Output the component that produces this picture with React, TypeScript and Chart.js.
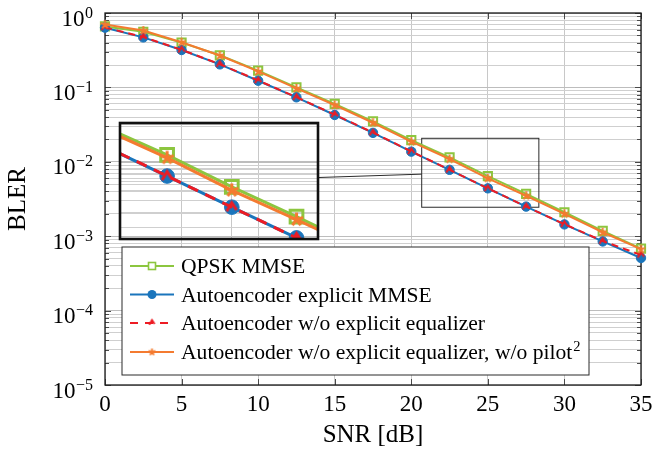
import React, { useEffect, useRef } from "react";
import { Chart, registerables } from "chart.js";

Chart.register(...registerables);

// ---------------- data ----------------
const snrDb = [0, 2.5, 5, 7.5, 10, 12.5, 15, 17.5, 20, 22.5, 25, 27.5, 30, 32.5, 35];
const qpskMmse = [0.66, 0.56, 0.4, 0.27, 0.168, 0.1, 0.06, 0.035, 0.0196, 0.0115, 0.0064, 0.0037, 0.0021, 0.00118, 0.00068];
const aeExplicitMmse = [0.635, 0.47, 0.318, 0.204, 0.123, 0.0736, 0.0426, 0.0245, 0.0137, 0.0078, 0.0044, 0.0025, 0.00144, 0.00085, 0.00051];
const aeNoEqualizer = [0.64, 0.475, 0.32, 0.205, 0.124, 0.074, 0.043, 0.0247, 0.0138, 0.0078, 0.0044, 0.0025, 0.00145, 0.00086, 0.00056];
const aeNoEqNoPilot = [0.7, 0.58, 0.405, 0.268, 0.164, 0.097, 0.058, 0.0335, 0.0187, 0.0109, 0.006, 0.0035, 0.002, 0.00113, 0.00067];

const seriesNames = [
  "QPSK MMSE",
  "Autoencoder explicit MMSE",
  "Autoencoder w/o explicit equalizer",
  "Autoencoder w/o explicit equalizer, w/o pilot",
];
const lastNameSup = "2";

const xTickValues = [0, 5, 10, 15, 20, 25, 30, 35];
const yExponents = [0, -1, -2, -3, -4, -5];
const zoomSnr = [20.68, 28.33];
const zoomBler = [0.00245, 0.0207];
const insetXTicks = [25];

const xTitle = "SNR [dB]";
const yTitle = "BLER";

// ---------------- style ----------------
const GREEN = "#8cc63f";
const BLUE = "#1a75bc";
const RED = "#ed1c24";
const ORANGE = "#f47b30";
const FONT = '"Liberation Serif", "Times New Roman", serif';
const W = 654;
const H = 455;
const INSET = { left: 120, top: 123, right: 318, bottom: 239 };
const LEGEND = { x: 122, y: 247, w: 467, h: 128 };

function isDecade(v: number) {
  const l = Math.log10(v);
  return Math.abs(l - Math.round(l)) < 1e-6;
}

function logGrid(minExp: number, maxExp: number) {
  const out: { value: number }[] = [];
  for (let e = minExp; e < maxExp; e++) {
    for (let m = 1; m < 10; m++) out.push({ value: m * Math.pow(10, e) });
  }
  out.push({ value: Math.pow(10, maxExp) });
  return out;
}

function chevronImg(size: number, color: string, lw: number) {
  const c = document.createElement("canvas");
  c.width = size;
  c.height = size;
  const g = c.getContext("2d")!;
  g.strokeStyle = color;
  g.lineWidth = lw;
  g.lineJoin = "miter";
  g.beginPath();
  g.moveTo(size * 0.2, size * 0.74);
  g.lineTo(size * 0.5, size * 0.24);
  g.lineTo(size * 0.78, size * 0.66);
  g.stroke();
  return c;
}

function starImg(size: number, color: string, lw: number) {
  const c = document.createElement("canvas");
  c.width = size;
  c.height = size;
  const g = c.getContext("2d")!;
  const cx = size / 2;
  const r = size / 2 - lw / 2;
  g.strokeStyle = color;
  g.lineWidth = lw;
  g.lineCap = "butt";
  g.beginPath();
  for (let k = 0; k < 5; k++) {
    const a = (-90 + 72 * k) * (Math.PI / 180);
    g.moveTo(cx, cx);
    g.lineTo(cx + r * Math.cos(a), cx + r * Math.sin(a));
  }
  g.stroke();
  g.fillStyle = color;
  g.beginPath();
  g.arc(cx, cx, lw * 0.9, 0, Math.PI * 2);
  g.fill();
  return c;
}

function pts(vals: number[]) {
  return snrDb.map((x, i) => ({ x, y: vals[i] }));
}

function buildDatasets(inset: boolean) {
  const k = inset ? 1.55 : 1;
  const lw = inset ? 3 : 2;
  const clip = inset ? undefined : false;
  return [
    {
      label: seriesNames[0],
      data: pts(qpskMmse),
      borderColor: GREEN,
      borderWidth: lw,
      pointStyle: "rect",
      pointRadius: 5.8 * k,
      pointBorderWidth: lw,
      pointBorderColor: GREEN,
      pointBackgroundColor: "rgba(0,0,0,0)",
      order: 4,
      clip,
    },
    {
      label: seriesNames[1],
      data: pts(aeExplicitMmse),
      borderColor: BLUE,
      borderWidth: lw,
      pointStyle: "circle",
      pointRadius: 4.7 * k,
      pointBorderWidth: 1,
      pointBorderColor: BLUE,
      pointBackgroundColor: BLUE,
      order: 3,
      clip,
    },
    {
      label: seriesNames[2],
      data: pts(aeNoEqualizer),
      borderColor: RED,
      borderWidth: lw,
      borderDash: inset ? [11, 8] : [7, 5],
      pointStyle: chevronImg(Math.round(11 * k), RED, lw),
      pointRadius: 5 * k,
      order: 2,
      clip,
    },
    {
      label: seriesNames[3],
      data: pts(aeNoEqNoPilot),
      borderColor: ORANGE,
      borderWidth: lw,
      pointStyle: starImg(Math.round(11 * k), ORANGE, inset ? 3 : 2),
      pointRadius: 5 * k,
      order: 1,
      clip,
    },
  ];
}

const mainDecor = {
  id: "mainDecor",
  beforeDatasetsDraw(chart: any) {
    const { ctx, chartArea: a, scales } = chart;
    const xs = scales.x;
    const ys = scales.y;
    ctx.save();
    // inner tick marks
    ctx.strokeStyle = "#4a4a4a";
    ctx.lineWidth = 1;
    ctx.beginPath();
    for (const t of ys.ticks) {
      const y = Math.round(ys.getPixelForValue(t.value)) + 0.5;
      const len = isDecade(t.value) ? 6 : 4;
      ctx.moveTo(a.left, y);
      ctx.lineTo(a.left + len, y);
      ctx.moveTo(a.right, y);
      ctx.lineTo(a.right - len, y);
    }
    for (const v of xTickValues) {
      const x = Math.round(xs.getPixelForValue(v)) + 0.5;
      ctx.moveTo(x, a.top);
      ctx.lineTo(x, a.top + 6);
      ctx.moveTo(x, a.bottom);
      ctx.lineTo(x, a.bottom - 6);
    }
    ctx.stroke();
    // frame
    ctx.strokeStyle = "#1a1a1a";
    ctx.lineWidth = 1.3;
    ctx.strokeRect(a.left, a.top, a.right - a.left, a.bottom - a.top);
    // zoom box + connector
    const bx0 = xs.getPixelForValue(zoomSnr[0]);
    const bx1 = xs.getPixelForValue(zoomSnr[1]);
    const by0 = ys.getPixelForValue(zoomBler[1]);
    const by1 = ys.getPixelForValue(zoomBler[0]);
    ctx.strokeStyle = "#2a2a2a";
    ctx.lineWidth = 1;
    ctx.strokeRect(bx0, by0, bx1 - bx0, by1 - by0);
    ctx.beginPath();
    ctx.moveTo(INSET.right, INSET.top + 0.47 * (INSET.bottom - INSET.top));
    ctx.lineTo(bx0, by0 + 0.52 * (by1 - by0));
    ctx.stroke();
    ctx.restore();
  },
  afterDatasetsDraw(chart: any) {
    const { ctx } = chart;
    ctx.save();
    // legend
    ctx.fillStyle = "#ffffff";
    ctx.fillRect(LEGEND.x, LEGEND.y, LEGEND.w, LEGEND.h);
    ctx.strokeStyle = "#2a2a2a";
    ctx.lineWidth = 1;
    ctx.strokeRect(LEGEND.x, LEGEND.y, LEGEND.w, LEGEND.h);
    const rows = [266, 294.5, 323, 352];
    const sx0 = LEGEND.x + 8;
    const sx1 = sx0 + 44;
    const mx = (sx0 + sx1) / 2;
    const tx = LEGEND.x + 59;
    const colors = [GREEN, BLUE, RED, ORANGE];
    rows.forEach((ry, i) => {
      ctx.strokeStyle = colors[i];
      ctx.lineWidth = 2;
      ctx.setLineDash(i === 2 ? [8, 7] : []);
      ctx.beginPath();
      ctx.moveTo(sx0, ry);
      ctx.lineTo(sx1, ry);
      ctx.stroke();
      ctx.setLineDash([]);
      if (i === 0) {
        ctx.fillStyle = "#fff";
        ctx.fillRect(mx - 3.5, ry - 3.5, 7, 7);
        ctx.strokeStyle = GREEN;
        ctx.lineWidth = 1.6;
        ctx.strokeRect(mx - 3.5, ry - 3.5, 7, 7);
      } else if (i === 1) {
        ctx.fillStyle = BLUE;
        ctx.beginPath();
        ctx.arc(mx, ry, 4.5, 0, Math.PI * 2);
        ctx.fill();
      } else if (i === 2) {
        const img = chevronImg(9, RED, 2);
        ctx.drawImage(img, mx - 4.5, ry - 5);
      } else {
        const img = starImg(9, ORANGE, 1.8);
        ctx.drawImage(img, mx - 4.5, ry - 4.5);
      }
      ctx.fillStyle = "#000";
      ctx.font = `21.6px ${FONT}`;
      ctx.textAlign = "left";
      ctx.textBaseline = "alphabetic";
      ctx.fillText(seriesNames[i], tx, ry + 7);
      if (i === 3) {
        const w = ctx.measureText(seriesNames[i]).width;
        ctx.font = `14.5px ${FONT}`;
        ctx.fillText(lastNameSup, tx + w + 1, ry - 1);
      }
    });
    ctx.restore();
  },
  afterDraw(chart: any) {
    const { ctx, chartArea: a, scales } = chart;
    const xs = scales.x;
    const ys = scales.y;
    ctx.save();
    ctx.fillStyle = "#000";
    ctx.textBaseline = "alphabetic";
    // x tick labels
    ctx.font = `23px ${FONT}`;
    ctx.textAlign = "center";
    for (const v of xTickValues) {
      ctx.fillText(String(v), xs.getPixelForValue(v), 411);
    }
    // y tick labels 10^e
    ctx.textAlign = "right";
    const rx = a.left - 12;
    for (const e of yExponents) {
      const y = ys.getPixelForValue(Math.pow(10, e));
      const sup = e === 0 ? "0" : "\u2212" + String(-e);
      ctx.font = `16px ${FONT}`;
      ctx.fillText(sup, rx, y + 4.5);
      const w = ctx.measureText(sup).width;
      ctx.font = `23px ${FONT}`;
      ctx.fillText("10", rx - w - 0.5, y + 12.5);
    }
    // axis titles
    ctx.font = `25px ${FONT}`;
    ctx.textAlign = "center";
    ctx.fillText(xTitle, (a.left + a.right) / 2, 442);
    ctx.translate(25, (a.top + a.bottom) / 2);
    ctx.rotate(-Math.PI / 2);
    ctx.fillText(yTitle, 0, 0);
    ctx.restore();
  },
};

const insetFrame = {
  id: "insetFrame",
  afterDatasetsDraw(chart: any) {
    const { ctx, chartArea: a } = chart;
    ctx.save();
    ctx.strokeStyle = "#111";
    ctx.lineWidth = 2.6;
    ctx.strokeRect(a.left, a.top, a.right - a.left, a.bottom - a.top);
    ctx.restore();
  },
};

function gridColor(c: any) {
  const v = c.tick && c.tick.value;
  return v && isDecade(v) ? "#bdbdbd" : "#cfcfcf";
}

export default function App() {
  const mainRef = useRef<HTMLCanvasElement>(null);
  const insetRef = useRef<HTMLCanvasElement>(null);

  useEffect(() => {
    const main = new Chart(mainRef.current!, {
      type: "line",
      data: { datasets: buildDatasets(false) as any },
      options: {
        responsive: false,
        animation: false,
        devicePixelRatio: 1,
        events: [],
        layout: { autoPadding: false, padding: { left: 0, top: 13, right: 13, bottom: 0 } },
        plugins: { legend: { display: false }, tooltip: { enabled: false } },
        scales: {
          x: {
            type: "linear",
            min: 0,
            max: 35,
            ticks: { display: false, stepSize: 5 },
            grid: { color: "#c8c8c8", lineWidth: 1, drawTicks: false },
            border: { display: false },
            afterFit: (s: any) => {
              s.height = 70;
            },
          },
          y: {
            type: "logarithmic",
            min: 1e-5,
            max: 1,
            ticks: { display: false },
            afterBuildTicks: (s: any) => {
              s.ticks = logGrid(yExponents[yExponents.length - 1], yExponents[0]);
            },
            grid: { color: gridColor, lineWidth: 1, drawTicks: false },
            border: { display: false },
            afterFit: (s: any) => {
              s.width = 105;
            },
          },
        },
      } as any,
      plugins: [mainDecor],
    });

    const inset = new Chart(insetRef.current!, {
      type: "line",
      data: { datasets: buildDatasets(true) as any },
      options: {
        responsive: false,
        animation: false,
        devicePixelRatio: 1,
        events: [],
        layout: { autoPadding: false, padding: 3 },
        plugins: { legend: { display: false }, tooltip: { enabled: false } },
        scales: {
          x: {
            type: "linear",
            min: zoomSnr[0],
            max: zoomSnr[1],
            ticks: { display: false },
            afterBuildTicks: (s: any) => {
              s.ticks = insetXTicks.map((v) => ({ value: v }));
            },
            grid: { color: "#c8c8c8", lineWidth: 1, drawTicks: false },
            border: { display: false },
            afterFit: (s: any) => {
              s.height = 0;
            },
          },
          y: {
            type: "logarithmic",
            min: zoomBler[0],
            max: zoomBler[1],
            ticks: { display: false },
            afterBuildTicks: (s: any) => {
              s.ticks = logGrid(-3, -2)
                .concat([{ value: 0.02 }])
                .filter((t) => t.value >= zoomBler[0] && t.value <= zoomBler[1]);
            },
            grid: { color: gridColor, lineWidth: 1, drawTicks: false },
            border: { display: false },
            afterFit: (s: any) => {
              s.width = 0;
            },
          },
        },
      } as any,
      plugins: [insetFrame],
    });

    return () => {
      main.destroy();
      inset.destroy();
    };
  }, []);

  return (
    <div style={{ position: "absolute", left: 0, top: 0, width: W, height: H, background: "#fff" }}>
      <canvas ref={mainRef} width={W} height={H} style={{ position: "absolute", left: 0, top: 0 }} />
      <canvas
        ref={insetRef}
        width={INSET.right - INSET.left + 6}
        height={INSET.bottom - INSET.top + 6}
        style={{ position: "absolute", left: INSET.left - 3, top: INSET.top - 3 }}
      />
    </div>
  );
}
